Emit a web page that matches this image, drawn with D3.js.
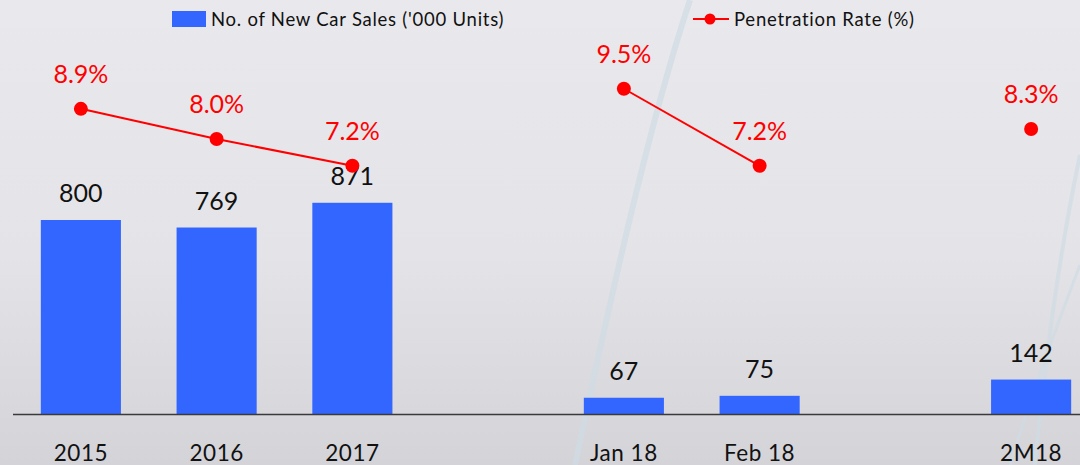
<!DOCTYPE html>
<html>
<head>
<meta charset="utf-8">
<script src="https://cdn.jsdelivr.net/npm/d3@7"></script>
<style>
  body { margin: 0; }
  svg { display: block; font-family: Lato, "Open Sans", sans-serif; }
</style>
</head>
<body>
<svg id="chart" width="1080" height="465"></svg>
<script>
// chart data
const slots = ["2015", "2016", "2017", "gap1", "Jan 18", "Feb 18", "gap2", "2M18"];
const categories = ["2015", "2016", "2017", "Jan 18", "Feb 18", "2M18"];
const sales = [800, 769, 871, 67, 75, 142];
const penetration = [8.9, 8.0, 7.2, 9.5, 7.2, 8.3];
// line segments (which categories are joined)
const segments = [["2015", "2016", "2017"], ["Jan 18", "Feb 18"], ["2M18"]];

const svg = d3.select("#chart");
const width = +svg.attr("width");
const height = +svg.attr("height");
const baseY = 414;

// background
const defs = svg.append("defs");
const grad = defs.append("linearGradient")
  .attr("id", "bg")
  .attr("x1", 0).attr("y1", 0).attr("x2", 0).attr("y2", 1);
grad.append("stop").attr("offset", "0%").attr("stop-color", "#e9e9ed");
grad.append("stop").attr("offset", "55%").attr("stop-color", "#e4e4e8");
grad.append("stop").attr("offset", "100%").attr("stop-color", "#d3d3d8");

svg.append("rect")
  .attr("width", width)
  .attr("height", height)
  .attr("fill", "url(#bg)");

// faint decorative swooshes
const swooshes = [
  { d: "M690,0 C650,120 610,300 575,465", w: 6 },
  { d: "M1080,155 C1060,250 1045,360 1035,465", w: 4 },
  { d: "M1080,265 C1055,330 1030,400 1010,465", w: 3 }
];
svg.selectAll(".swoosh")
  .data(swooshes)
  .enter()
  .append("path")
    .classed("swoosh", true)
    .attr("d", d => d.d)
    .attr("fill", "none")
    .attr("stroke", "#d0dbe4")
    .attr("stroke-width", d => d.w)
    .attr("opacity", 0.7);

// scales
const xScale = d3.scaleBand()
  .domain(slots)
  .range([13, 1099])
  .paddingInner(0.41)
  .paddingOuter(0.205);

const yScale = d3.scaleLinear()
  .domain([0, 1000])
  .range([baseY, 171.5]);

const yRate = d3.scaleLinear()
  .domain([0, 10])
  .range([407, 72]);

const cx = d => xScale(d) + xScale.bandwidth() / 2;

const data = categories.map((c, i) => ({ cat: c, sales: sales[i], rate: penetration[i] }));

// bars
svg.selectAll(".bar")
  .data(data)
  .enter()
  .append("rect")
    .classed("bar", true)
    .attr("x", d => xScale(d.cat))
    .attr("width", xScale.bandwidth())
    .attr("y", d => yScale(d.sales))
    .attr("height", d => baseY - yScale(d.sales))
    .attr("fill", "#3366ff");

// baseline axis
const xAxis = d3.axisBottom(xScale)
  .tickSize(0)
  .tickPadding(31)
  .tickFormat(d => d.startsWith("gap") ? "" : d);

const axisG = svg.append("g")
  .attr("transform", `translate(0, ${baseY})`)
  .call(xAxis);
axisG.select(".domain")
  .attr("d", `M13,0.5H1080`)
  .attr("stroke", "#3a3a3a")
  .attr("stroke-width", 1.5);
axisG.selectAll("text")
  .attr("font-family", "Lato, 'Open Sans', sans-serif")
  .attr("font-size", 22.5)
  .attr("letter-spacing", 0.5)
  .attr("fill", "#111");

// bar value labels
svg.selectAll(".bar-label")
  .data(data)
  .enter()
  .append("text")
    .classed("bar-label", true)
    .attr("x", d => cx(d.cat))
    .attr("y", d => yScale(d.sales) - 18)
    .attr("text-anchor", "middle")
    .attr("font-size", 25)
    .attr("fill", "#111")
    .text(d => d.sales);

// penetration line
const line = d3.line()
  .x(d => cx(d.cat))
  .y(d => yRate(d.rate));

svg.selectAll(".rate-line")
  .data(segments.map(s => data.filter(d => s.includes(d.cat))))
  .enter()
  .append("path")
    .classed("rate-line", true)
    .attr("d", line)
    .attr("fill", "none")
    .attr("stroke", "#ff0000")
    .attr("stroke-width", 2);

svg.selectAll(".rate-dot")
  .data(data)
  .enter()
  .append("circle")
    .classed("rate-dot", true)
    .attr("cx", d => cx(d.cat))
    .attr("cy", d => yRate(d.rate))
    .attr("r", 7)
    .attr("fill", "#ff0000");

svg.selectAll(".rate-label")
  .data(data)
  .enter()
  .append("text")
    .classed("rate-label", true)
    .attr("x", d => cx(d.cat))
    .attr("y", d => yRate(d.rate) - 26)
    .attr("text-anchor", "middle")
    .attr("font-size", 25)
    .attr("fill", "#ff0000")
    .text(d => d3.format(".1f")(d.rate) + "%");

// legend
const legend = svg.append("g");
legend.append("rect")
  .attr("x", 172).attr("y", 11)
  .attr("width", 34).attr("height", 16)
  .attr("fill", "#3366ff");
legend.append("text")
  .attr("x", 211).attr("y", 25.5)
  .attr("font-size", 18.5)
  .attr("letter-spacing", 0.75)
  .attr("fill", "#111")
  .text("No. of New Car Sales ('000 Units)");

legend.append("line")
  .attr("x1", 693).attr("x2", 729)
  .attr("y1", 19).attr("y2", 19)
  .attr("stroke", "#ff0000")
  .attr("stroke-width", 2);
legend.append("circle")
  .attr("cx", 710).attr("cy", 19).attr("r", 5.5)
  .attr("fill", "#ff0000");
legend.append("text")
  .attr("x", 734).attr("y", 25.5)
  .attr("font-size", 18.5)
  .attr("letter-spacing", 0.75)
  .attr("fill", "#111")
  .text("Penetration Rate (%)");
</script>
</body>
</html>
